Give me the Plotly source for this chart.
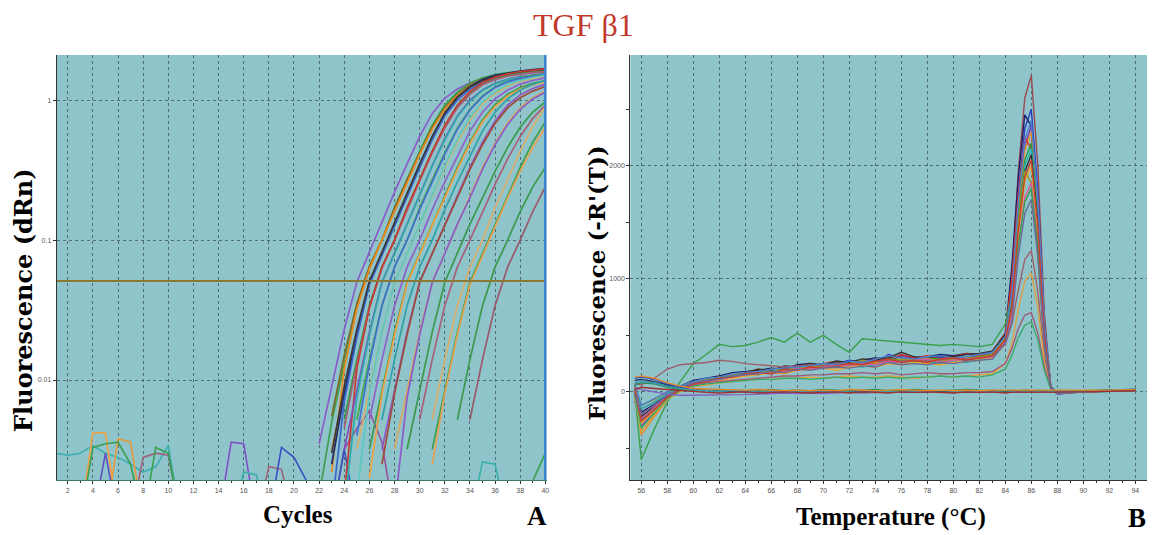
import math
import plotly.graph_objects as go

W, H = 1154, 535

# ---------------- Panel A: amplification plot (log) ----------------
THRESHOLD = 0.051
CYCLE_TICKS = list(range(2, 41, 2))

AMP_START = [22, 22, 23, 23, 23, 23, 23, 23, 24, 24, 24, 24, 24, 25, 25, 25, 25,
             26, 26, 26, 27, 27, 27, 28, 28, 29, 30, 31, 31, 31, 33, 34, 38]
AMP_VALUES = [
    [0.0035, 0.0088, 0.023, 0.05, 0.082, 0.135, 0.22, 0.35, 0.55, 0.8, 1.03, 1.2, 1.33, 1.42, 1.48, 1.52, 1.55, 1.57, 1.59],
    [0.0015, 0.005, 0.013, 0.033, 0.063, 0.1, 0.17, 0.27, 0.43, 0.66, 0.92, 1.14, 1.32, 1.44, 1.52, 1.57, 1.61, 1.64, 1.66],
    [0.0055, 0.015, 0.035, 0.065, 0.1, 0.17, 0.27, 0.42, 0.64, 0.88, 1.1, 1.28, 1.4, 1.48, 1.54, 1.58, 1.61, 1.63],
    [0.0022, 0.012, 0.032, 0.062, 0.1, 0.16, 0.26, 0.41, 0.62, 0.86, 1.08, 1.26, 1.39, 1.47, 1.53, 1.57, 1.6, 1.62],
    [0.0032, 0.0085, 0.022, 0.05, 0.08, 0.13, 0.21, 0.34, 0.53, 0.78, 1.02, 1.22, 1.36, 1.46, 1.52, 1.57, 1.6, 1.63],
    [0.0025, 0.008, 0.021, 0.049, 0.079, 0.128, 0.21, 0.34, 0.54, 0.8, 1.05, 1.25, 1.4, 1.5, 1.56, 1.61, 1.65, 1.68],
    [0.0012, 0.007, 0.02, 0.048, 0.078, 0.127, 0.205, 0.33, 0.52, 0.77, 1.0, 1.2, 1.34, 1.44, 1.5, 1.55, 1.58, 1.6],
    [0.003, 0.009, 0.023, 0.051, 0.082, 0.133, 0.215, 0.35, 0.55, 0.81, 1.05, 1.24, 1.38, 1.47, 1.53, 1.58, 1.61, 1.64],
    [0.0052, 0.014, 0.034, 0.064, 0.1, 0.17, 0.27, 0.43, 0.65, 0.9, 1.12, 1.3, 1.42, 1.5, 1.55, 1.59, 1.62],
    [0.0045, 0.013, 0.033, 0.063, 0.1, 0.165, 0.265, 0.42, 0.63, 0.88, 1.1, 1.28, 1.4, 1.48, 1.53, 1.57, 1.6],
    [0.0015, 0.012, 0.033, 0.064, 0.1, 0.17, 0.27, 0.43, 0.66, 0.92, 1.15, 1.33, 1.46, 1.54, 1.6, 1.64, 1.67],
    [0.0032, 0.0085, 0.022, 0.05, 0.08, 0.13, 0.21, 0.34, 0.53, 0.77, 1.0, 1.18, 1.32, 1.41, 1.47, 1.51, 1.54],
    [0.0012, 0.0075, 0.021, 0.05, 0.08, 0.13, 0.21, 0.34, 0.52, 0.76, 0.98, 1.17, 1.31, 1.4, 1.46, 1.5, 1.53],
    [0.0052, 0.014, 0.034, 0.064, 0.1, 0.17, 0.27, 0.42, 0.63, 0.86, 1.07, 1.24, 1.36, 1.44, 1.5, 1.54],
    [0.004, 0.013, 0.034, 0.064, 0.1, 0.165, 0.26, 0.41, 0.62, 0.85, 1.06, 1.23, 1.35, 1.43, 1.48, 1.52],
    [0.0032, 0.0085, 0.022, 0.05, 0.08, 0.13, 0.21, 0.33, 0.5, 0.72, 0.94, 1.12, 1.26, 1.36, 1.43, 1.48],
    [0.0015, 0.008, 0.022, 0.05, 0.08, 0.13, 0.21, 0.34, 0.52, 0.75, 0.97, 1.15, 1.29, 1.38, 1.45, 1.5],
    [0.0052, 0.014, 0.034, 0.064, 0.1, 0.165, 0.26, 0.4, 0.6, 0.82, 1.02, 1.18, 1.3, 1.38, 1.44],
    [0.0032, 0.0085, 0.022, 0.05, 0.08, 0.13, 0.21, 0.33, 0.5, 0.72, 0.93, 1.1, 1.23, 1.32, 1.38],
    [0.002, 0.008, 0.021, 0.049, 0.079, 0.128, 0.2, 0.32, 0.49, 0.7, 0.9, 1.07, 1.2, 1.29, 1.35],
    [0.0052, 0.014, 0.034, 0.064, 0.1, 0.165, 0.26, 0.4, 0.6, 0.82, 1.02, 1.18, 1.3, 1.38],
    [0.0032, 0.0085, 0.022, 0.05, 0.08, 0.13, 0.21, 0.33, 0.5, 0.71, 0.92, 1.09, 1.21, 1.3],
    [0.0025, 0.008, 0.021, 0.05, 0.08, 0.128, 0.2, 0.32, 0.48, 0.68, 0.88, 1.04, 1.16, 1.25],
    [0.0032, 0.0085, 0.022, 0.05, 0.08, 0.13, 0.21, 0.33, 0.49, 0.69, 0.88, 1.04, 1.16],
    [0.0012, 0.0075, 0.021, 0.05, 0.08, 0.13, 0.2, 0.32, 0.48, 0.67, 0.86, 1.02, 1.14],
    [0.0032, 0.0085, 0.022, 0.05, 0.08, 0.13, 0.2, 0.31, 0.46, 0.64, 0.82, 0.97],
    [0.0052, 0.014, 0.034, 0.064, 0.1, 0.16, 0.25, 0.38, 0.55, 0.74, 0.92],
    [0.0052, 0.014, 0.034, 0.064, 0.1, 0.17, 0.27, 0.43, 0.65, 0.9],
    [0.0032, 0.0085, 0.022, 0.05, 0.08, 0.13, 0.21, 0.33, 0.5, 0.7],
    [0.0025, 0.008, 0.021, 0.048, 0.077, 0.125, 0.2, 0.31, 0.46, 0.64],
    [0.0052, 0.014, 0.034, 0.064, 0.1, 0.16, 0.24, 0.33],
    [0.0052, 0.014, 0.034, 0.064, 0.1, 0.16, 0.24],
    [0.0012, 0.0019, 0.003],
]
AMP_COLORS = ["#8a5cc8", "#3f9e4a", "#7a6a2a", "#f08a1c", "#d2a860", "#1c2a6e", "#3a66cc",
              "#3a3a3a", "#2f9a4a", "#a8607a", "#c83a30", "#8050c0", "#2fa8a8", "#45a845",
              "#4070d0", "#d8ae6a", "#5cc8c0", "#9060c8", "#3c9a50", "#f0a040", "#30a0a8",
              "#8a58c0", "#a04a3a", "#d8a860", "#8a5cc8", "#3a9a4a", "#a8607a", "#d8ae6a",
              "#3aa050", "#e8a050", "#3a9a4a", "#9a5a6a", "#3aa050"]

NOISE_START = [1, 3, 5, 3, 4, 7, 8, 14, 15, 17, 18, 23, 23, 34]
NOISE_VALUES = [
    [0.003, 0.0029, 0.003, 0.0034, 0.003, 0.0028, 0.0025, 0.0022, 0.0024, 0.0034, 0.001],
    [0.001, 0.0042, 0.0042, 0.001],
    [0.001, 0.0038, 0.0036, 0.001],
    [0.001, 0.0033, 0.0035, 0.0036, 0.0025, 0.001],
    [0.001, 0.003, 0.001],
    [0.001, 0.0028, 0.003, 0.0029, 0.001],
    [0.001, 0.0033, 0.003, 0.001],
    [0.001, 0.0036, 0.0035, 0.001],
    [0.001, 0.0022, 0.0021, 0.001],
    [0.001, 0.0024, 0.0023, 0.001],
    [0.001, 0.0033, 0.0028, 0.0019, 0.001],
    [0.001, 0.0032, 0.0045, 0.006, 0.0036, 0.001],
    [0.001, 0.0032, 0.001],
    [0.001, 0.0026, 0.0025, 0.001],
]
NOISE_COLORS = ["#3ab0b0", "#f0a040", "#e89a3a", "#3aa050", "#6050c0", "#a0607a", "#3aa050",
                "#8050c8", "#3ab0a8", "#a0607a", "#3a50c0", "#9a50a0", "#3a50c0", "#3ab0a8"]

# ---------------- Panel B: melt curves ----------------
TEMPS = [55.5, 56, 57, 58, 59,
         60, 61, 62, 63, 64, 65, 66, 67, 68, 69, 70, 71, 72, 73, 74, 75, 76, 77, 78, 79, 80, 81, 82, 83,
         84, 84.5, 85, 85.5, 86, 86.5, 87, 87.5, 88, 90, 92, 94]
TEMP_TICKS = list(range(56, 95, 2))

MELT_VALUES = [
    [60, -150, -90, -20, 40,
     90, 110, 140, 130, 170, 160, 200, 190, 230, 210, 220, 250, 240, 260, 250, 310, 280, 290, 280, 300, 310, 300, 330, 360,
     500, 1000, 1950, 2600, 2800, 2000, 700, 30, -10, 0, 10, 20],
    [-50, -250, -150, -40, 30,
     70, 100, 110, 150, 160, 150, 190, 220, 200, 240, 230, 250, 280, 260, 250, 330, 300, 270, 290, 310, 280, 300, 320, 330,
     480, 900, 1750, 2330, 2500, 1780, 620, 40, -20, 5, 10, 15],
    [20, -180, -110, -30, 50,
     100, 120, 140, 170, 180, 190, 210, 200, 240, 250, 230, 270, 260, 280, 300, 290, 320, 300, 310, 330, 320, 340, 330, 350,
     520, 1100, 1900, 2450, 2350, 1500, 500, 50, -10, 0, 5, 20],
    [-80, -300, -180, -60, 20,
     60, 90, 100, 130, 150, 170, 180, 160, 210, 200, 230, 220, 240, 260, 250, 280, 330, 260, 280, 270, 290, 280, 300, 320,
     460, 850, 1650, 2180, 2350, 1670, 590, 30, -20, 0, 10, 10],
    [0, -380, -220, -70, 20,
     70, 100, 120, 140, 150, 180, 170, 190, 200, 230, 220, 210, 240, 230, 260, 250, 270, 290, 260, 280, 270, 300, 290, 310,
     450, 830, 1610, 2140, 2300, 1630, 575, 30, -15, 5, 10, 15],
    [40, -200, -130, -40, 30,
     80, 110, 130, 150, 170, 200, 180, 210, 230, 220, 250, 270, 240, 260, 290, 280, 330, 300, 320, 290, 310, 340, 320, 360,
     520, 1000, 1750, 2250, 2150, 1400, 480, 40, -10, 0, 10, 20],
    [-20, -260, -150, -50, 20,
     80, 100, 120, 140, 160, 180, 200, 190, 220, 240, 220, 250, 260, 240, 270, 300, 280, 270, 300, 290, 300, 280, 310, 330,
     480, 790, 1540, 2050, 2200, 1560, 550, 30, -10, 5, 15, 10],
    [30, -150, -90, -20, 40,
     90, 110, 130, 140, 160, 170, 190, 180, 210, 200, 220, 240, 230, 220, 240, 270, 260, 250, 270, 250, 270, 260, 280, 310,
     450, 770, 1500, 2000, 2150, 1530, 540, 30, -10, 0, 10, 15],
    [10, -220, -130, -40, 30,
     80, 100, 120, 160, 170, 200, 190, 230, 220, 250, 240, 270, 260, 290, 280, 300, 350, 310, 300, 320, 310, 330, 340, 360,
     510, 760, 1470, 1950, 2100, 1490, 525, 40, -10, 0, 10, 20],
    [-60, -280, -170, -60, 10,
     60, 80, 100, 120, 140, 150, 170, 160, 190, 200, 210, 190, 220, 230, 220, 250, 240, 260, 250, 240, 260, 270, 280, 300,
     420, 720, 1400, 1860, 2000, 1420, 500, 40, -10, 5, 10, 10],
    [50, -120, -70, 0, 50,
     90, 110, 130, 150, 170, 160, 200, 190, 220, 210, 240, 230, 250, 280, 250, 270, 290, 280, 300, 270, 290, 300, 310, 330,
     470, 850, 1500, 1950, 1850, 1200, 420, 30, -10, 0, 5, 15],
    [0, -240, -140, -40, 30,
     70, 90, 110, 130, 150, 170, 160, 180, 210, 200, 220, 240, 230, 250, 240, 270, 260, 280, 290, 260, 280, 290, 300, 310,
     450, 670, 1300, 1720, 1850, 1310, 460, 30, -10, 0, 10, 10],
    [0, -600, -330, -90, 90,
     250, 330, 420, 400, 410, 440, 480, 440, 520, 440, 500, 420, 350, 470, 460, 450, 440, 430, 420, 410, 420, 410, 400, 420,
     600, 850, 1300, 1680, 1800, 1280, 450, 40, -10, 0, 5, 10],
    [80, 60, 120, 200, 240,
     250, 260, 280, 270, 250, 240, 230, 220, 230, 240, 230, 250, 240, 260, 270, 290, 270, 280, 270, 280, 300, 290, 300, 320,
     420, 600, 900, 1170, 1250, 890, 320, 30, -10, 0, 10, 15],
    [-40, -350, -200, -70, 0,
     50, 60, 80, 90, 100, 110, 110, 120, 120, 130, 120, 130, 140, 130, 130, 140, 130, 120, 130, 140, 130, 140, 150, 160,
     250, 420, 730, 980, 1050, 750, 270, 20, -10, 0, 10, 10],
    [20, -200, -120, -40, 20,
     60, 80, 90, 100, 110, 120, 130, 140, 140, 150, 150, 160, 160, 170, 160, 170, 150, 160, 170, 160, 160, 170, 170, 180,
     250, 380, 560, 680, 700, 520, 220, 30, -10, 0, 10, 15],
    [-30, -320, -190, -60, 10,
     50, 70, 80, 90, 100, 110, 110, 120, 120, 110, 120, 130, 120, 130, 120, 130, 120, 130, 130, 140, 130, 140, 130, 150,
     200, 320, 480, 590, 620, 460, 190, 20, -10, 0, 5, 10],
    [70, -120, -60, 0, 50,
     90, 120, 130, 160, 170, 180, 200, 210, 220, 230, 250, 240, 270, 260, 290, 320, 300, 290, 310, 320, 300, 310, 330, 350,
     490, 860, 1680, 2230, 2400, 1700, 600, 40, -10, 0, 10, 15],
    [10, -260, -160, -50, 20,
     70, 90, 120, 130, 160, 170, 160, 200, 190, 220, 210, 230, 250, 240, 270, 290, 260, 280, 260, 290, 300, 280, 300, 320,
     460, 740, 1430, 1900, 2050, 1460, 510, 30, -10, 0, 10, 15],
    [-20, -200, -120, -30, 30,
     80, 100, 110, 140, 150, 160, 180, 170, 200, 190, 210, 220, 210, 230, 220, 260, 240, 250, 240, 260, 250, 270, 280, 290,
     430, 620, 1200, 1580, 1700, 1200, 430, 30, -10, 0, 10, 10],
    # flat (no-product) curves
    [120, 130, 110, 70, 40,
     20, 15, 10, 5, 5, 0, 5, 10, 0, 5, 0, 10, 5, 0, 10, 5, 0, 10, 5, 0, 5, 10, 0, 5,
     0, 5, 10, 0, 5, 10, 0, 5, 0, 10, 15, 20],
    [40, 20, 0, -20, -30,
     -30, -30, -30, -25, -25, -20, -15, -10, -15, -10, -15, -10, -5, -10, -5, 0, -5, 0, -5, 0, -5, 0, -5, 0,
     0, 0, -5, 0, 5, 0, 0, 5, 0, 5, 10, 15],
    [100, 110, 90, 60, 30,
     15, 10, 10, 5, 0, 5, -5, 0, 5, -5, 0, 5, 0, -5, 0, 5, 0, -5, 0, 5, 0, -5, 0, 5,
     5, 0, 0, 5, 0, 0, 5, 0, 0, 5, 10, 20],
    [60, 80, 70, 40, 20,
     10, 15, 20, 15, 10, 15, 20, 10, 15, 10, 20, 15, 10, 15, 20, 10, 15, 20, 15, 10, 15, 20, 15, 10,
     10, 15, 10, 15, 10, 15, 10, 10, 5, 10, 15, 20],
    [80, 90, 80, 50, 30,
     15, 10, 5, 10, 10, 0, 5, 0, 5, -5, 0, 5, 0, 0, -5, 5, 0, 5, 0, -5, 0, 5, 0, 5,
     -5, 0, 5, 0, 5, 0, 5, 0, 5, 0, 10, 25],
    [130, 140, 120, 80, 50,
     30, 25, 20, 20, 15, 20, 15, 10, 15, 10, 15, 10, 20, 15, 10, 15, 20, 15, 10, 15, 10, 15, 10, 15,
     15, 10, 15, 10, 15, 10, 15, 10, 10, 15, 15, 20],
    [20, 40, 30, 20, 10,
     0, -5, -10, -5, 0, -10, -5, 0, -5, -10, -5, 0, -10, 0, -5, -10, 0, -5, 0, -5, -10, 0, -5, 0,
     -10, -5, 0, -5, 0, -5, 0, -5, 0, 0, 5, 10],
]
MELT_COLORS = ["#9a4a50", "#2a3fbf", "#1b1f6b", "#7b3fb5", "#f08a1c", "#d9302c", "#2e9b3a",
               "#1fb3b3", "#333333", "#f5a623", "#9a9a20", "#d45aa0", "#3aa04a", "#a0606a",
               "#e0a040", "#a05a7a", "#3cab6a", "#4a7fd0", "#c8402a", "#6a6a9a",
               "#3050c0", "#8060c0", "#203070", "#2e8b57", "#3aa0b0", "#e08a30", "#a03030"]

for v in MELT_VALUES:
    assert len(v) == len(TEMPS), len(v)

# ---------------- layout geometry ----------------
BG = "#8fc4cb"
GRID = "#4f6f74"
A_X = [57 / W, 548 / W]
B_X = [632 / W, 1150 / W]
Y_DOM = [1 - 480 / H, 1 - 55 / H]

fig = go.Figure()

for s, vals, c in zip(NOISE_START, NOISE_VALUES, NOISE_COLORS):
    fig.add_trace(go.Scatter(x=list(range(s, s + len(vals))), y=vals, mode="lines",
                             line=dict(color=c, width=1.6), xaxis="x", yaxis="y",
                             showlegend=False, hoverinfo="skip"))
for s, vals, c in zip(AMP_START, AMP_VALUES, AMP_COLORS):
    fig.add_trace(go.Scatter(x=list(range(s, s + len(vals))), y=vals, mode="lines",
                             line=dict(color=c, width=1.7), xaxis="x", yaxis="y",
                             showlegend=False, hoverinfo="skip"))
fig.add_trace(go.Scatter(x=[1.13, 40], y=[THRESHOLD, THRESHOLD], mode="lines",
                         line=dict(color="#8a7a36", width=2), xaxis="x", yaxis="y",
                         showlegend=False, hoverinfo="skip"))

for vals, c in zip(MELT_VALUES, MELT_COLORS):
    fig.add_trace(go.Scatter(x=TEMPS, y=vals, mode="lines",
                             line=dict(color=c, width=1.4), xaxis="x2", yaxis="y2",
                             showlegend=False, hoverinfo="skip"))

tickfont = dict(family="Liberation Sans, Arial", size=7, color="#555555")
common = dict(showgrid=True, gridcolor=GRID, griddash="dot", gridwidth=1, zeroline=False,
              ticks="outside", ticklen=3, tickcolor="#333333", tickfont=tickfont,
              showline=True, linewidth=1.2)

fig.update_layout(
    width=W, height=H, autosize=False,
    margin=dict(l=0, r=0, t=0, b=0, pad=0),
    paper_bgcolor="white", plot_bgcolor=BG,
    xaxis=dict(domain=A_X, range=[1.13, 40.1], tickvals=CYCLE_TICKS, anchor="y",
               linecolor="#3f7a6a",
               minor=dict(dtick=1, ticks="outside", ticklen=2, tickcolor="#333333", showgrid=False),
               **common),
    yaxis=dict(domain=Y_DOM, type="log", range=[math.log10(0.00193), math.log10(2.1)],
               tickvals=[0.01, 0.1, 1], ticktext=["0.01", "0.1", "1"], anchor="x",
               linecolor="#333333", **common),
    xaxis2=dict(domain=B_X, range=[55.16, 94.9], tickvals=TEMP_TICKS, anchor="y2",
                linecolor="#333333",
                minor=dict(dtick=1, ticks="outside", ticklen=2, tickcolor="#333333", showgrid=False),
                **common),
    yaxis2=dict(domain=Y_DOM, range=[-780, 2980], tickvals=[0, 1000, 2000], anchor="x2",
                linecolor="#333333",
                minor=dict(dtick=500, tick0=0, ticks="outside", ticklen=3, tickcolor="#333333", showgrid=False),
                **common),
    shapes=[dict(type="line", xref="x", yref="y domain", x0=40, x1=40, y0=0, y1=1,
                 line=dict(color="#3b7fd8", width=2.5))],
)

def px(x, y):
    return x / W, 1 - y / H

lab = dict(family="Liberation Serif, Times New Roman, serif", color="black")
ylab = dict(family="DejaVu Serif, serif", color="black")
annots = [
    ("TGF β1", 585, 25, 0, dict(family="Liberation Serif, serif", size=32, color="#c0392b")),
    ("<b>Fluorescence (dRn)</b>", 23, 300, -90, dict(ylab, size=24)),
    ("<b>Fluorescence (-R'(T))</b>", 598, 283, -90, dict(ylab, size=23)),
    ("<b>Cycles</b>", 299, 514, 0, dict(lab, size=25)),
    ("<b>Temperature (°C)</b>", 893, 517, 0, dict(lab, size=25)),
    ("<b>A</b>", 538, 516, 0, dict(lab, size=27)),
    ("<b>B</b>", 1140, 518, 0, dict(lab, size=27)),
]
for text, x, y, ang, f in annots:
    ax, ay = px(x, y)
    fig.add_annotation(text=text, x=ax, y=ay, xref="paper", yref="paper", showarrow=False,
                       textangle=ang, font=f, xanchor="center", yanchor="middle")

fig.write_html("out.html", config={"displayModeBar": False},
               post_script="document.body.style.margin='0';document.body.style.overflow='hidden';")
